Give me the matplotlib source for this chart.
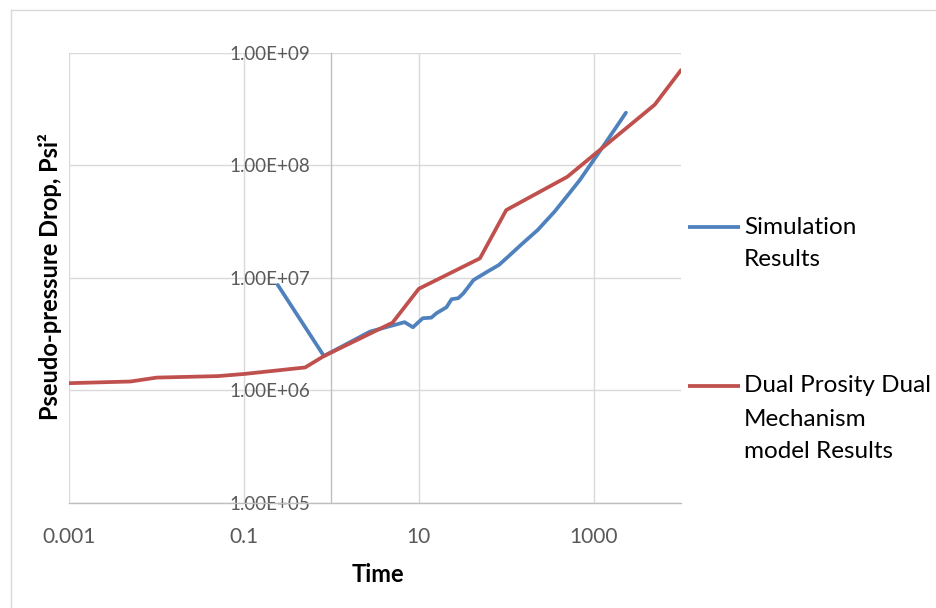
import matplotlib
matplotlib.use("Agg")
import matplotlib.pyplot as plt
from matplotlib.lines import Line2D
from matplotlib.ticker import FixedLocator, FixedFormatter, NullLocator

# Simulation results (time, pseudo-pressure drop in psi^2)
sim_time = [0.243, 0.82, 2.76, 6.87, 8.55, 11.1, 13.9, 15.9, 20.7, 23.7, 28.3,
            32.4, 42.3, 60.3, 82.3, 103, 147, 229, 357, 509, 696, 1135, 1776, 2344]
sim_drop = [8.65e6, 2.02e6, 3.33e6, 4.04e6, 3.64e6, 4.38e6, 4.43e6, 4.85e6,
            5.48e6, 6.46e6, 6.6e6, 7.3e6, 9.57e6, 1.13e7, 1.30e7, 1.52e7,
            1.96e7, 2.66e7, 3.87e7, 5.45e7, 7.4e7, 1.28e8, 2.13e8, 2.93e8]

# Dual porosity dual mechanism model results
model_time = [0.001, 0.005, 0.01, 0.05, 0.1, 0.5, 0.82, 5, 10, 50, 100, 500,
              5000, 10000]
model_drop = [1.16e6, 1.20e6, 1.30e6, 1.34e6, 1.40e6, 1.60e6, 2.02e6, 4.0e6,
              8.0e6, 1.49e7, 4.0e7, 7.9e7, 3.45e8, 7.0e8]

x_ticks = [0.001, 0.1, 10, 1000]
x_tick_labels = ["0.001", "0.1", "10", "1000"]
y_ticks = [1e5, 1e6, 1e7, 1e8, 1e9]
y_tick_labels = ["1.00E+05", "1.00E+06", "1.00E+07", "1.00E+08", "1.00E+09"]

series_names = ["Simulation\nResults", "Dual Prosity Dual\nMechanism\nmodel Results"]
x_title = "Time"
y_title = "Pseudo-pressure Drop, Psi²"

BLUE = "#4F81BD"
RED = "#C0504D"
GRID = "#D9D9D9"
AXIS = "#BFBFBF"
TICK_TXT = "#595959"

plt.rcParams["font.family"] = ["Lato", "DejaVu Sans"]

W, H = 937, 608
fig = plt.figure(figsize=(W / 100, H / 100), dpi=100)

# chart-area frame (top and left edges visible)
fig.add_artist(Line2D([11 / W, 1.0], [1 - 10 / H, 1 - 10 / H], color=GRID, lw=1.0))
fig.add_artist(Line2D([11 / W, 11 / W], [0.0, 1 - 10 / H], color=GRID, lw=1.0))

x0, x1, y0, y1 = 69.3, 681.0, 52.7, 503.0
ax = fig.add_axes([x0 / W, 1 - y1 / H, (x1 - x0) / W, (y1 - y0) / H])
ax.set_xscale("log")
ax.set_yscale("log")
ax.set_xlim(0.001, 10000)
ax.set_ylim(1e5, 1e9)

ax.xaxis.set_major_locator(FixedLocator(x_ticks))
ax.xaxis.set_major_formatter(FixedFormatter(x_tick_labels))
ax.xaxis.set_minor_locator(NullLocator())
ax.yaxis.set_major_locator(FixedLocator(y_ticks))
ax.yaxis.set_major_formatter(FixedFormatter(y_tick_labels))
ax.yaxis.set_minor_locator(NullLocator())

ax.grid(True, which="major", color=GRID, lw=1.0)
ax.set_axisbelow(True)

for side in ("top", "right"):
    ax.spines[side].set_visible(False)
ax.spines["left"].set_position(("data", 1))
ax.spines["left"].set_color(AXIS)
ax.spines["left"].set_linewidth(1.0)
ax.spines["bottom"].set_color(AXIS)
ax.spines["bottom"].set_linewidth(1.0)

ax.tick_params(axis="x", length=0, pad=17, labelsize=15, labelcolor=TICK_TXT)
ax.tick_params(axis="y", length=0, pad=15, labelsize=13.5, labelcolor=TICK_TXT)

ax.plot(sim_time, sim_drop, color=BLUE, lw=2.7, solid_joinstyle="round",
        solid_capstyle="round", zorder=3)
ax.plot(model_time, model_drop, color=RED, lw=2.7, solid_joinstyle="round",
        solid_capstyle="round", zorder=4)

fig.text(378 / W, 1 - 574 / H, x_title, ha="center", va="center",
         fontsize=17, fontweight="bold", color="black")
fig.text(50 / W, 1 - 277 / H, y_title, ha="center", va="center", rotation=90,
         fontsize=17, fontweight="bold", color="black")

# legend: sample line aligned with the first text line of each entry
legend_rows = [(227, series_names[0], BLUE), (386, series_names[1], RED)]
for ypx, label, col in legend_rows:
    fig.add_artist(Line2D([688 / W, 740 / W], [1 - ypx / H, 1 - ypx / H],
                          color=col, lw=2.7, solid_capstyle="butt"))
    for i, line in enumerate(label.split("\n")):
        fig.text(744 / W, 1 - (ypx + 33 * i) / H, line, ha="left", va="center",
                 fontsize=17.5, color="black")

fig.savefig("out.png", dpi=100)
